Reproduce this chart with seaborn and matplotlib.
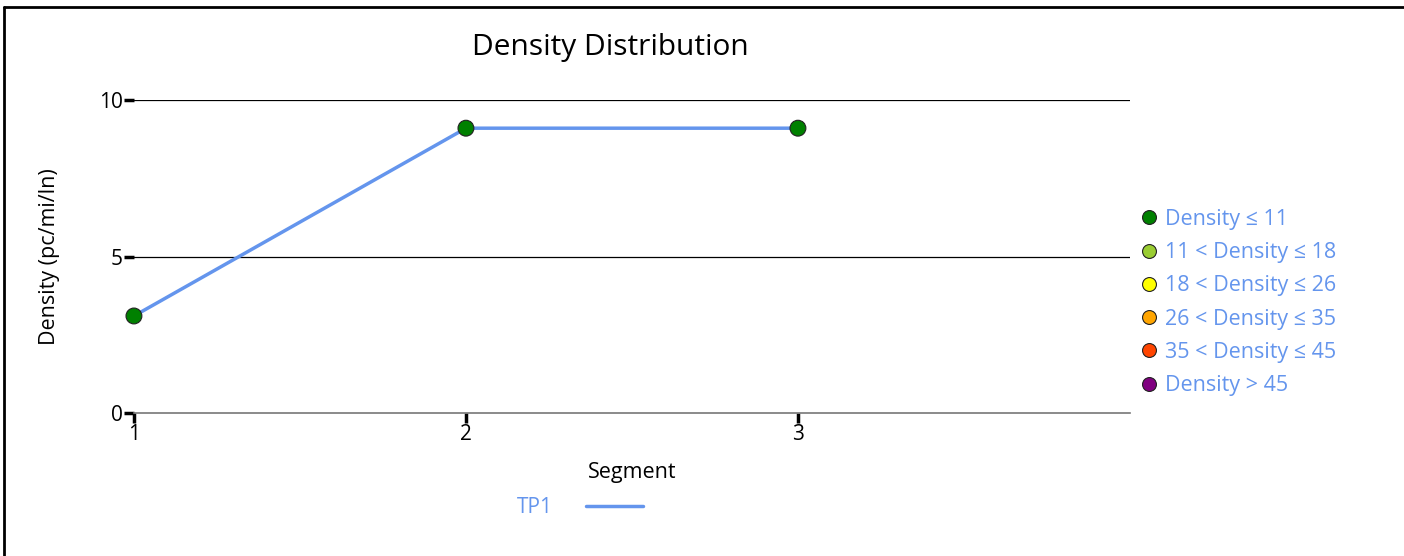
import numpy as np
import pandas as pd
import seaborn as sns
import matplotlib.pyplot as plt
from matplotlib.lines import Line2D

# data
segments = [1, 2, 3]
density = [3.1, 9.1, 9.1]
series_name = "TP1"

bin_labels = ["Density \u2264 11", "11 < Density \u2264 18", "18 < Density \u2264 26",
              "26 < Density \u2264 35", "35 < Density \u2264 45", "Density > 45"]
bin_edges = [11, 18, 26, 35, 45]
bin_colors = ["#008000", "#9ACD32", "#FFFF00", "#FFA500", "#FF4500", "#800080"]

y_ticks = [0, 5, 10]
x_ticks = [1, 2, 3]

df = pd.DataFrame({"Segment": segments, "Density": density, "Series": series_name})
df["Bin"] = [bin_labels[int(np.searchsorted(bin_edges, d, side="left"))] for d in df["Density"]]

sns.set_theme(style="white")
plt.rcParams["font.family"] = ["Open Sans", "DejaVu Sans"]

fig = plt.figure(figsize=(14.04, 5.56), dpi=100)
ax = fig.add_axes([0.0954, 0.2572, 0.7094, 0.5629])

line_color = "#6495ED"
sns.lineplot(data=df, x="Segment", y="Density", color=line_color, linewidth=2.5,
             ax=ax, legend=False)
sns.scatterplot(data=df, x="Segment", y="Density", hue="Bin",
                palette=dict(zip(bin_labels, bin_colors)), s=130,
                edgecolor="#222222", linewidth=0.8, ax=ax, legend=False, zorder=5)
for c in ax.collections:
    c.set_clip_on(False)

ax.set_xlim(1, 4)
ax.set_ylim(0, 10)
ax.set_xticks(x_ticks)
ax.set_yticks(y_ticks)
ax.tick_params(axis="both", labelsize=15, colors="black", length=7, width=2.5,
               direction="out", left=True, bottom=True, pad=1)
for t in ax.get_xticklabels() + ax.get_yticklabels():
    t.set_color("black")

for y in y_ticks[1:]:
    ax.axhline(y, color="black", linewidth=0.9, zorder=1)
for side in ["left", "right", "top"]:
    ax.spines[side].set_visible(False)
ax.spines["bottom"].set_color("#777777")
ax.spines["bottom"].set_linewidth(1.2)

ax.set_xlabel("Segment", fontsize=15.5, color="black", labelpad=12)
ax.set_ylabel("Density (pc/mi/ln)", fontsize=15.5, color="black", labelpad=28)
fig.text(0.435, 0.914, "Density Distribution", fontsize=21.5, ha="center", va="center",
         color="black")

# category legend on the right
handles = [Line2D([], [], marker="o", linestyle="", markersize=10,
                  markerfacecolor=c, markeredgecolor="#222222", markeredgewidth=0.8)
           for c in bin_colors]
leg = fig.legend(handles, bin_labels, loc="center left", bbox_to_anchor=(0.797, 0.456),
                 frameon=False, fontsize=15.5, handletextpad=0.25, labelspacing=0.57,
                 handlelength=1.0)
for t in leg.get_texts():
    t.set_color(line_color)

# series legend at the bottom
leg2 = fig.legend([Line2D([], [], color=line_color, linewidth=2.5)], [series_name],
                  loc="center", bbox_to_anchor=(0.413, 0.087), frameon=False,
                  fontsize=15, markerfirst=False, handlelength=2.7, handletextpad=1.6)
for t in leg2.get_texts():
    t.set_color(line_color)

# frame around the figure (left and top)
fig.add_artist(Line2D([0.003, 0.003], [0, 0.988], transform=fig.transFigure,
                      color="black", linewidth=2))
fig.add_artist(Line2D([0.003, 1], [0.988, 0.988], transform=fig.transFigure,
                      color="black", linewidth=2))

fig.savefig("out.png", dpi=100)
